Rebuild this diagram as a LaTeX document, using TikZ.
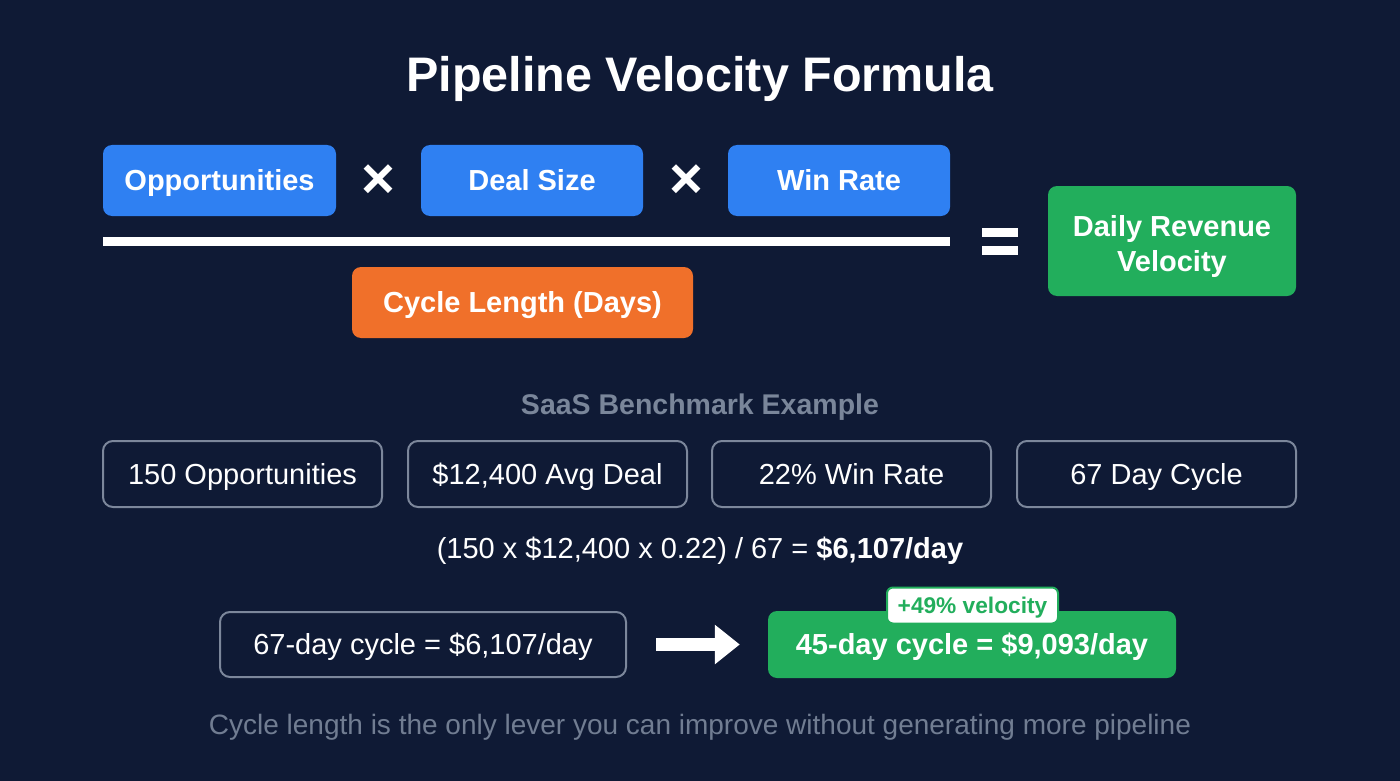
\documentclass[tikz,border=0pt]{standalone}
\usepackage{fontspec}
\setmainfont{Liberation Sans}
\usetikzlibrary{arrows.meta}

\definecolor{navy}{HTML}{0F1A35}
\definecolor{termblue}{HTML}{2F80F2}
\definecolor{termorange}{HTML}{F0702A}
\definecolor{termgreen}{HTML}{22AE5C}
\definecolor{labelgray}{HTML}{7A869A}
\definecolor{framegray}{HTML}{7C879B}
\definecolor{notegray}{HTML}{717D92}

\begin{document}
\begin{tikzpicture}[x=1pt,y=-1pt,
		every node/.style={inner sep=0pt, text depth=0pt},
		term/.style={fill=termblue, text=white, rounded corners=9pt, minimum height=71pt, text height=20.9pt, font=\bfseries\fontsize{29}{35}\selectfont},
		factor/.style={draw=framegray, line width=2pt, rounded corners=10pt, text=white, minimum width=279pt, minimum height=66pt, text height=20.9pt, font=\fontsize{29}{34}\selectfont},
		times/.style={text=white, text height={}, text depth={}, font=\bfseries\fontsize{58}{64}\selectfont}]
	\fill[navy] (0,0) rectangle (1400,781);
	\useasboundingbox (0,0) rectangle (1400,781);

	\node[text=white, text height=34.9pt, font=\bfseries\fontsize{48.5}{56}\selectfont] (title) at (700,74) {Pipeline Velocity Formula};

	\node[term, minimum width=233pt] (opps) at (219.5,180.5) {Opportunities};
	\node[times] (x1) at (378,182) {×};
	\node[term, minimum width=222pt] (deal) at (532,180.5) {Deal Size};
	\node[times] (x2) at (686,182) {×};
	\node[term, minimum width=222pt] (win) at (839,180.5) {Win Rate};

	\fill[white] (103,236.5) rectangle (950,245.5);
	\node[term, fill=termorange, minimum width=341pt] (cycle) at (522.5,302.5) {Cycle Length (Days)};

	\fill[white] (982,228) rectangle (1018,236.5);
	\fill[white] (982,246) rectangle (1018,254.5);
	\node[term, fill=termgreen, minimum width=248pt, minimum height=110pt, align=center, text height=61.9pt] (velocity) at (1172,241) {Daily Revenue\\Velocity};

	\node[text=labelgray, text height=20.5pt, font=\bfseries\fontsize{28.5}{33}\selectfont] (bench) at (700,404) {SaaS Benchmark Example};

	\node[factor] (f1) at (242.5,474) {150 Opportunities};
	\node[factor] (f2) at (547.5,474) {\$12,400 Avg Deal};
	\node[factor] (f3) at (851.5,474) {22\% Win Rate};
	\node[factor] (f4) at (1156.5,474) {67 Day Cycle};

	\node[text=white, text height=20.9pt, font=\fontsize{29}{34}\selectfont] (calc) at (700,548) {(150 x \$12,400 x 0.22) / 67 = \textbf{\$6,107/day}};

	\node[factor, minimum width=406pt, minimum height=65pt] (before) at (423,644.5) {67-day cycle = \$6,107/day};
	\node[term, fill=termgreen, minimum width=408pt, minimum height=67pt] (after) at (972,644.5) {45-day cycle = \$9,093/day};
	\node[fill=white, draw=termgreen, line width=2pt, rounded corners=6pt, text=termgreen, minimum width=171pt, minimum height=36pt, text height=16.3pt, font=\bfseries\fontsize{22.7}{26}\selectfont] (gain) at (972.5,605.5) {+49\% velocity};
	\draw[white, line width=13pt, -{Triangle[length=25pt, width=38pt]}, shorten <=29pt, shorten >=28pt] (before.east) -- (after.west);

	\node[text=notegray, text height=20.2pt, font=\fontsize{28}{33}\selectfont] (note) at (700,724) {Cycle length is the only lever you can improve without generating more pipeline};
\end{tikzpicture}
\end{document}
